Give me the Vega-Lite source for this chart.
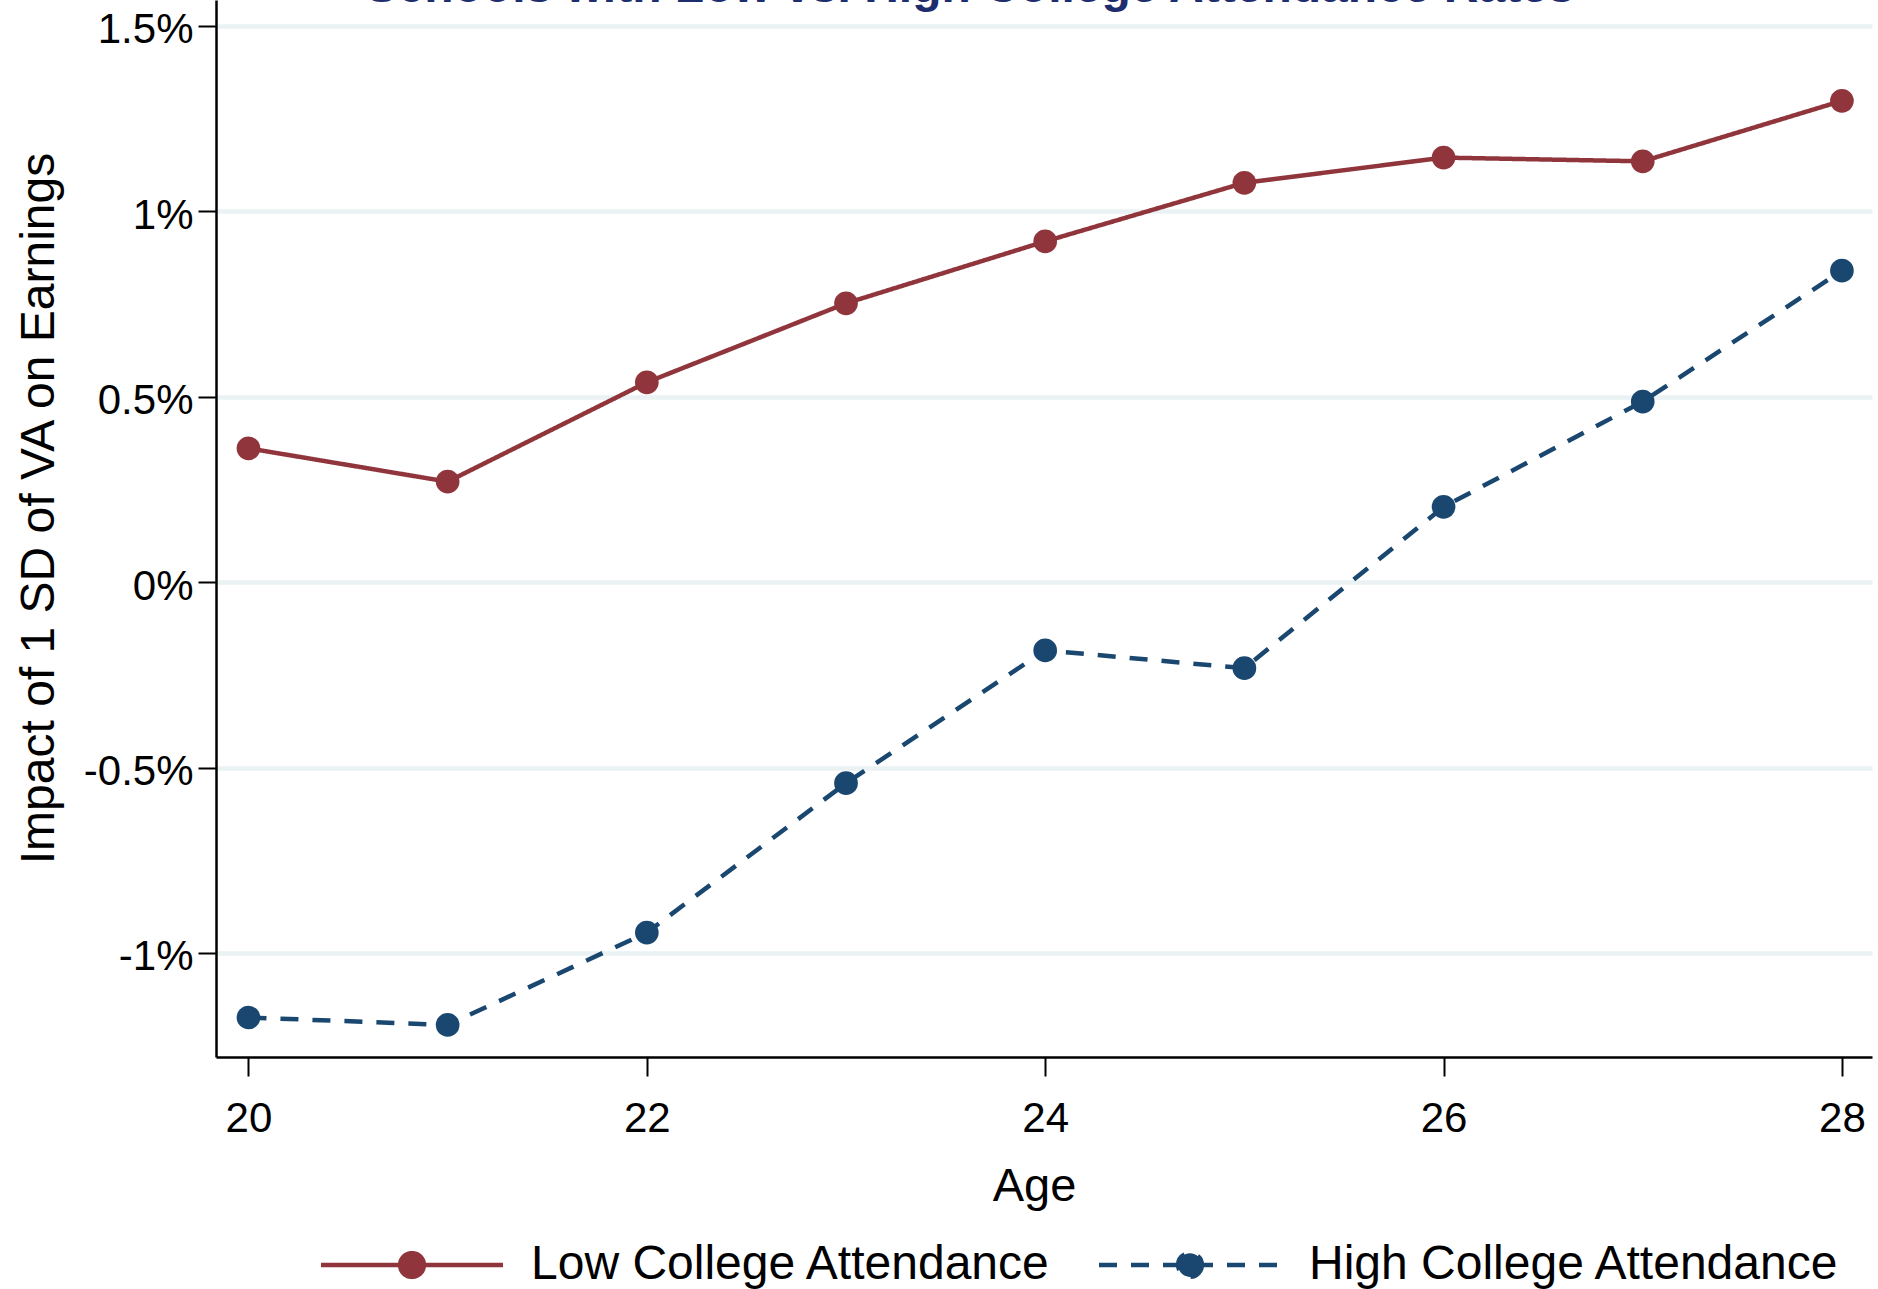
{
  "$schema": "https://vega.github.io/schema/vega-lite/v6.json",
  "width": 1656,
  "height": 1057,
  "autosize": {"type": "none"},
  "padding": {"left": 216, "top": 0, "right": 6, "bottom": 232},
  "background": "white",
  "config": {
    "view": {"stroke": null},
    "font": "Liberation Sans"
  },
  "title": {
    "text": "Schools with Low vs. High College Attendance Rates",
    "font": "Liberation Sans",
    "fontSize": 48,
    "fontWeight": "bold",
    "color": "#1E2D6E",
    "anchor": "middle",
    "frame": "group",
    "offset": 0,
    "baseline": "alphabetic",
    "dx": -74,
    "dy": 50
  },
  "data": {
    "values": [
      {"age": 20, "impact": 0.361, "group": "Low College Attendance"},
      {"age": 21, "impact": 0.271, "group": "Low College Attendance"},
      {"age": 22, "impact": 0.539, "group": "Low College Attendance"},
      {"age": 23, "impact": 0.752, "group": "Low College Attendance"},
      {"age": 24, "impact": 0.919, "group": "Low College Attendance"},
      {"age": 25, "impact": 1.077, "group": "Low College Attendance"},
      {"age": 26, "impact": 1.145, "group": "Low College Attendance"},
      {"age": 27, "impact": 1.135, "group": "Low College Attendance"},
      {"age": 28, "impact": 1.298, "group": "Low College Attendance"},
      {"age": 20, "impact": -1.174, "group": "High College Attendance"},
      {"age": 21, "impact": -1.194, "group": "High College Attendance"},
      {"age": 22, "impact": -0.945, "group": "High College Attendance"},
      {"age": 23, "impact": -0.542, "group": "High College Attendance"},
      {"age": 24, "impact": -0.184, "group": "High College Attendance"},
      {"age": 25, "impact": -0.232, "group": "High College Attendance"},
      {"age": 26, "impact": 0.203, "group": "High College Attendance"},
      {"age": 27, "impact": 0.487, "group": "High College Attendance"},
      {"age": 28, "impact": 0.840, "group": "High College Attendance"}
    ]
  },
  "encoding": {
    "x": {
      "field": "age",
      "type": "quantitative",
      "scale": {"domain": [19.837, 28.151], "nice": false, "zero": false},
      "axis": {
        "values": [20, 22, 24, 26, 28],
        "grid": false,
        "domainColor": "black",
        "domainWidth": 2.5,
        "tickColor": "black",
        "tickWidth": 2,
        "tickSize": 19,
        "labelFont": "Liberation Sans",
        "labelFontSize": 42,
        "labelColor": "black",
        "labelBaseline": "alphabetic",
        "labelPadding": 55,
        "labelFlush": false,
        "labelOverlap": false,
        "title": "Age",
        "titleFont": "Liberation Sans",
        "titleFontSize": 47,
        "titleFontWeight": "normal",
        "titleColor": "black",
        "titleBaseline": "alphabetic",
        "titleX": 818,
        "titleY": 143
      }
    },
    "y": {
      "field": "impact",
      "type": "quantitative",
      "scale": {"domain": [-1.2805, 1.57], "nice": false, "zero": false},
      "axis": {
        "values": [-1, -0.5, 0, 0.5, 1, 1.5],
        "labelExpr": "datum.value + '%'",
        "grid": true,
        "gridColor": "#EAF2F3",
        "gridWidth": 4.5,
        "domainColor": "black",
        "domainWidth": 2.5,
        "tickColor": "black",
        "tickWidth": 2,
        "tickSize": 18,
        "labelFont": "Liberation Sans",
        "labelFontSize": 42,
        "labelColor": "black",
        "labelPadding": 5,
        "labelOffset": 4,
        "labelOverlap": false,
        "labelFlush": false,
        "title": "Impact of 1 SD of VA on Earnings",
        "titleFont": "Liberation Sans",
        "titleFontSize": 48,
        "titleFontWeight": "normal",
        "titleColor": "black",
        "titleBaseline": "alphabetic",
        "titleAngle": 270,
        "titleX": -163,
        "titleY": 508
      }
    },
    "color": {
      "field": "group",
      "type": "nominal",
      "scale": {
        "domain": ["Low College Attendance", "High College Attendance"],
        "range": ["#90353B", "#1A476F"]
      },
      "legend": {
        "orient": "none",
        "legendX": 172,
        "legendY": 1241,
        "direction": "horizontal",
        "title": null,
        "symbolType": "M -7.28 0 H 7.28 M 0.95 0 A 0.95 0.95 0 1 1 -0.95 0 A 0.95 0.95 0 1 1 0.95 0 Z",
        "symbolSize": 625,
        "symbolStrokeWidth": 4.5,
        "labelFont": "Liberation Sans",
        "labelFontSize": 48,
        "labelColor": "black",
        "labelOffset": 95,
        "columnPadding": 38,
        "labelLimit": 0,
        "encode": {
          "symbols": {
            "update": {
              "fill": {"scale": "color", "field": "value"},
              "stroke": {"scale": "color", "field": "value"},
              "strokeDash": {"scale": "strokeDash", "field": "value"},
              "opacity": {"value": 1}
            }
          }
        }
      }
    }
  },
  "layer": [
    {
      "mark": {"type": "line", "strokeWidth": 4.5},
      "encoding": {
        "strokeDash": {
          "field": "group",
          "type": "nominal",
          "scale": {
            "domain": ["Low College Attendance", "High College Attendance"],
            "range": [[1, 0], [18, 14]]
          },
          "legend": null
        }
      }
    },
    {
      "mark": {"type": "point", "filled": true, "size": 560, "opacity": 1}
    }
  ]
}
